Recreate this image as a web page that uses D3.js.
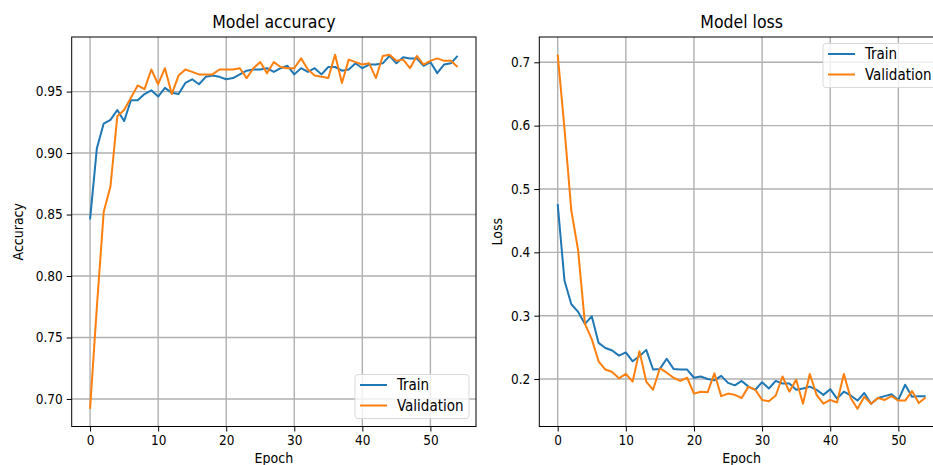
<!DOCTYPE html>
<html>
<head>
<meta charset="utf-8">
<script src="https://cdn.jsdelivr.net/npm/d3@7"></script>
<style>
  body { margin: 0; background: #fff; }
  svg text { font-family: "DejaVu Sans Condensed", "DejaVu Sans", sans-serif; fill: #000; }
</style>
</head>
<body>
<svg id="chart" width="933" height="465"></svg>
<script>
const epochs = d3.range(55);

const trainAcc = [0.846, 0.904, 0.924, 0.927, 0.935, 0.926, 0.943, 0.943, 0.948, 0.951,
  0.946, 0.953, 0.949, 0.948, 0.957, 0.960, 0.956, 0.962, 0.963, 0.962,
  0.960, 0.961, 0.964, 0.967, 0.968, 0.968, 0.969, 0.966, 0.969, 0.971,
  0.964, 0.969, 0.966, 0.969, 0.964, 0.970, 0.970, 0.967, 0.968, 0.973,
  0.969, 0.972, 0.972, 0.973, 0.979, 0.973, 0.978, 0.977, 0.977, 0.971,
  0.974, 0.965, 0.972, 0.973, 0.979];
const valAcc = [0.692, 0.775, 0.852, 0.873, 0.930, 0.935, 0.945, 0.955, 0.952, 0.968,
  0.956, 0.969, 0.948, 0.963, 0.968, 0.966, 0.964, 0.964, 0.964, 0.968,
  0.968, 0.968, 0.969, 0.961, 0.969, 0.974, 0.965, 0.974, 0.970, 0.969,
  0.969, 0.977, 0.968, 0.963, 0.962, 0.961, 0.980, 0.957, 0.976, 0.974,
  0.972, 0.973, 0.961, 0.979, 0.980, 0.975, 0.976, 0.969, 0.979, 0.972,
  0.975, 0.977, 0.975, 0.975, 0.970];

const trainLoss = [0.476, 0.355, 0.318, 0.306, 0.287, 0.299, 0.257, 0.249, 0.245, 0.237,
  0.242, 0.228, 0.236, 0.246, 0.215, 0.216, 0.232, 0.216, 0.215, 0.215,
  0.202, 0.204, 0.200, 0.198, 0.205, 0.194, 0.190, 0.197, 0.188, 0.183,
  0.195, 0.185, 0.197, 0.193, 0.193, 0.183, 0.185, 0.188, 0.183, 0.175,
  0.184, 0.169, 0.180, 0.174, 0.166, 0.178, 0.161, 0.170, 0.173, 0.176,
  0.167, 0.191, 0.172, 0.173, 0.173];
const valLoss = [0.712, 0.595, 0.466, 0.403, 0.287, 0.263, 0.228, 0.215, 0.211, 0.201,
  0.208, 0.196, 0.244, 0.196, 0.183, 0.217, 0.210, 0.202, 0.197, 0.202,
  0.177, 0.180, 0.179, 0.209, 0.173, 0.177, 0.175, 0.170, 0.188, 0.183,
  0.167, 0.165, 0.174, 0.204, 0.180, 0.199, 0.161, 0.208, 0.175, 0.161,
  0.167, 0.163, 0.208, 0.170, 0.153, 0.172, 0.161, 0.170, 0.167, 0.173,
  0.166, 0.166, 0.181, 0.162, 0.171];

const xTicks = [0, 10, 20, 30, 40, 50];
const accTicks = [0.70, 0.75, 0.80, 0.85, 0.90, 0.95];
const lossTicks = [0.2, 0.3, 0.4, 0.5, 0.6, 0.7];
const seriesNames = ['Train', 'Validation'];
const colors = ['#1f77b4', '#ff7f0e'];

const svg = d3.select('#chart');

function pad(values) {
  const [lo, hi] = d3.extent(values);
  const p = (hi - lo) * 0.05;
  return [lo - p, hi + p];
}

function panel(opts) {
  const { left, right, top, bottom } = opts;
  const g = svg.append('g');

  const x = d3.scaleLinear().domain(pad(epochs)).range([left, right]);
  const y = d3.scaleLinear().domain(pad(opts.series.flat())).range([bottom, top]);

  // clip so the right panel can run off the page like the original
  const clipId = 'clip' + opts.id;
  svg.append('clipPath').attr('id', clipId)
    .append('rect').attr('x', left).attr('y', top)
    .attr('width', right - left).attr('height', bottom - top);

  // grid
  g.append('g').selectAll('line').data(xTicks).join('line')
    .attr('x1', d => x(d)).attr('x2', d => x(d))
    .attr('y1', top).attr('y2', bottom)
    .attr('stroke', '#b0b0b0').attr('stroke-width', 1.4);
  g.append('g').selectAll('line').data(opts.yTicks).join('line')
    .attr('x1', left).attr('x2', right)
    .attr('y1', d => y(d)).attr('y2', d => y(d))
    .attr('stroke', '#b0b0b0').attr('stroke-width', 1.4);

  // series
  const line = d3.line().x((d, i) => x(epochs[i])).y(d => y(d));
  g.append('g').attr('clip-path', `url(#${clipId})`)
    .selectAll('path').data(opts.series).join('path')
    .attr('d', line)
    .attr('fill', 'none')
    .attr('stroke', (d, i) => colors[i])
    .attr('stroke-width', 2)
    .attr('stroke-linejoin', 'round');

  // axes
  const xAxis = d3.axisBottom(x).tickValues(xTicks).tickSize(5).tickPadding(4).tickFormat(d3.format('d'));
  const yAxis = d3.axisLeft(y).tickValues(opts.yTicks).tickSize(5).tickPadding(4).tickFormat(d3.format(opts.fmt));
  const gx = g.append('g').attr('transform', `translate(0,${bottom})`).call(xAxis);
  const gy = g.append('g').attr('transform', `translate(${left},0)`).call(yAxis);
  [gx, gy].forEach(a => {
    a.select('.domain').remove();
    a.selectAll('text').attr('font-size', 13.5).attr('font-family', null);
    a.selectAll('line').attr('stroke', '#000').attr('stroke-width', 1);
  });

  // frame
  g.append('rect').attr('x', left).attr('y', top)
    .attr('width', right - left).attr('height', bottom - top)
    .attr('fill', 'none').attr('stroke', '#000').attr('stroke-width', 1);

  // labels
  g.append('text').attr('x', (left + right) / 2).attr('y', top - 9)
    .attr('text-anchor', 'middle').attr('font-size', 17.5).text(opts.title);
  g.append('text').attr('x', (left + right) / 2).attr('y', bottom + 36)
    .attr('text-anchor', 'middle').attr('font-size', 14).text('Epoch');
  g.append('text').attr('transform', `translate(${opts.yLabelX},${(top + bottom) / 2}) rotate(-90)`)
    .attr('text-anchor', 'middle').attr('font-size', 14).text(opts.yLabel);

  // legend
  const lg = g.append('g').attr('transform', `translate(${opts.legend[0]},${opts.legend[1]})`);
  lg.append('rect').attr('width', opts.legend[2]).attr('height', 44).attr('rx', 3)
    .attr('fill', '#fff').attr('fill-opacity', 0.8)
    .attr('stroke', '#d9d9d9').attr('stroke-width', 1);
  const item = lg.selectAll('g').data(seriesNames).join('g')
    .attr('transform', (d, i) => `translate(0,${10.5 + i * 20.5})`);
  item.append('line').attr('x1', 5).attr('x2', 32)
    .attr('stroke', (d, i) => colors[i]).attr('stroke-width', 2);
  item.append('text').attr('x', 42).attr('dy', '0.35em')
    .attr('font-size', 15).text(d => d);
}

panel({
  id: 'acc', left: 71.7, right: 476, top: 37, bottom: 426.5,
  series: [trainAcc, valAcc], yTicks: accTicks, fmt: '.2f',
  title: 'Model accuracy', yLabel: 'Accuracy', yLabelX: 23,
  legend: [355, 374.5, 114]
});

panel({
  id: 'loss', left: 539.3, right: 944, top: 37, bottom: 426.5,
  series: [trainLoss, valLoss], yTicks: lossTicks, fmt: '.1f',
  title: 'Model loss', yLabel: 'Loss', yLabelX: 502,
  legend: [823, 43.5, 114]
});
</script>
</body>
</html>
